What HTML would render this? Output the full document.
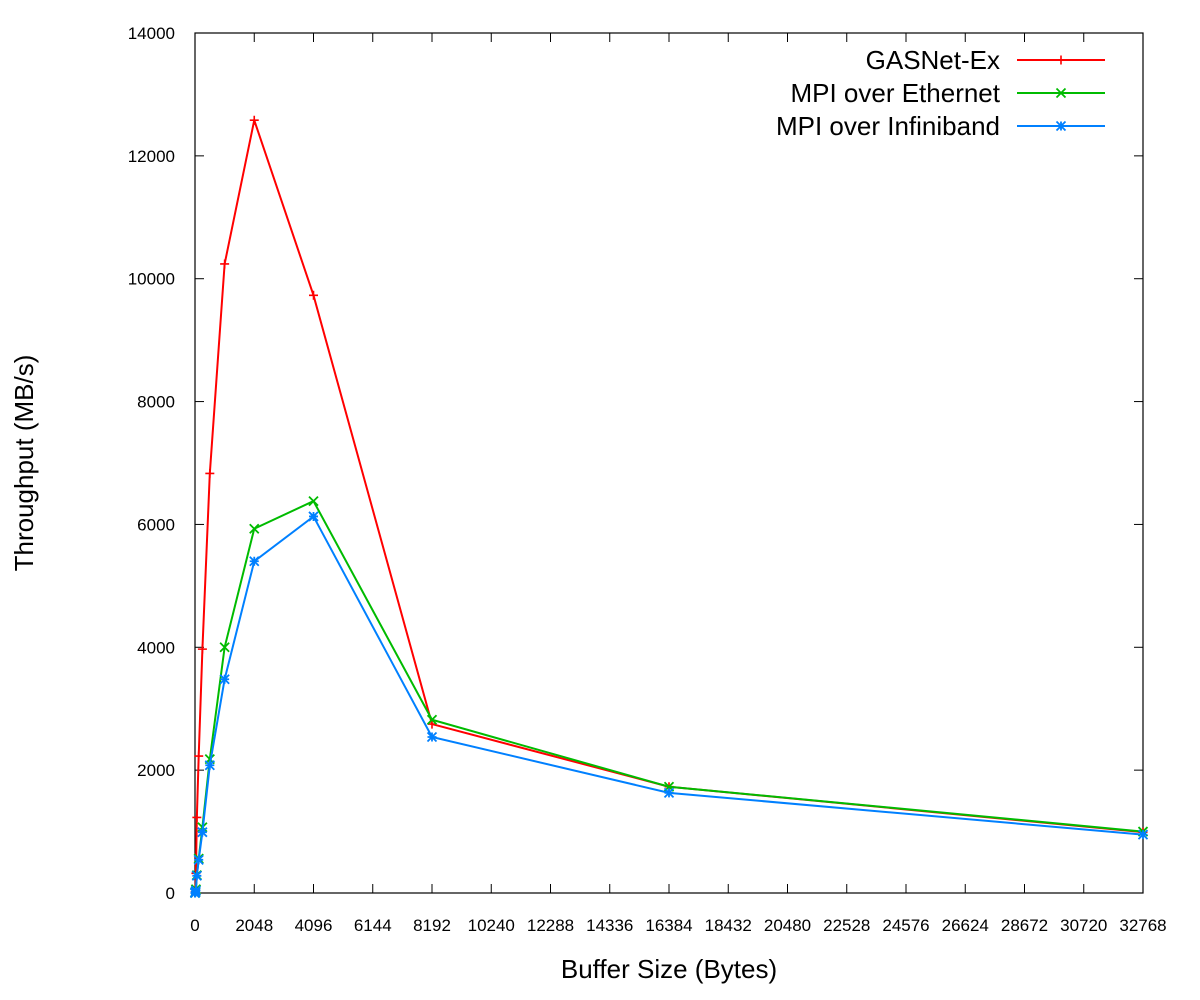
<!DOCTYPE html>
<html><head><meta charset="utf-8"><style>
html,body{margin:0;padding:0;background:#fff;}
svg{display:block;font-family:"Liberation Sans",sans-serif;}
</style></head><body>
<svg id="chart" width="1200" height="1000" viewBox="0 0 1200 1000"></svg>
<script>
const xValues=[1,2,4,8,16,32,64,128,256,512,1024,2048,4096,8192,16384,32768];
const gasnet=[2,4,8,20,60,320,1230,2230,3970,6830,10240,12580,9730,2750,1730,990];
const mpiEth=[1,2,4,8,20,60,290,560,1070,2180,4000,5930,6380,2820,1730,1000];
const mpiIb=[1,2,4,8,15,40,280,540,990,2080,3480,5400,6130,2540,1630,950];
const xTicks=[0,2048,4096,6144,8192,10240,12288,14336,16384,18432,20480,22528,24576,26624,28672,30720,32768];
const yTicks=[0,2000,4000,6000,8000,10000,12000,14000];
const seriesNames=["GASNet-Ex","MPI over Ethernet","MPI over Infiniband"];
const L=195,R=1143,T=33,B=893;
const sx=v=>L+(v/32768)*(R-L);
const sy=v=>B-(v/14000)*(B-T);
const NS="http://www.w3.org/2000/svg";
const svg=document.getElementById('chart');
function mk(tag,attrs,parent){const e=document.createElementNS(NS,tag);for(const k in attrs)e.setAttribute(k,attrs[k]);(parent||svg).appendChild(e);return e;}
xTicks.forEach(t=>{
  const x=sx(t);
  const a=mk('line',{x1:x,y1:B,x2:x,y2:B-9,stroke:'#000','stroke-width':1});
  
  
  const b=mk('line',{x1:x,y1:T,x2:x,y2:T+9,stroke:'#000','stroke-width':1});
  
  
  const tx=mk('text',{x:x,y:B+38,'text-anchor':'middle','font-size':17});
  tx.textContent=t;
  
  
});
yTicks.forEach(t=>{
  const y=sy(t);
  const a=mk('line',{x1:L,y1:y,x2:L+9,y2:y,stroke:'#000','stroke-width':1});
  
  
  const b=mk('line',{x1:R,y1:y,x2:R-9,y2:y,stroke:'#000','stroke-width':1});
  
  
  const tx=mk('text',{x:L-20,y:y+6,'text-anchor':'end','font-size':17});
  tx.textContent=t;
  
  
});
const border=mk('rect',{x:L,y:T,width:R-L,height:B-T,fill:'none',stroke:'#000','stroke-width':1.2});


function marker(kind,x,y,color,g){
  const s=4.5;
  if(kind==='plus'){
    mk('path',{d:`M${x-s} ${y}H${x+s}M${x} ${y-s}V${y+s}`,stroke:color,'stroke-width':1.6,fill:'none'},g);
  }else if(kind==='x'){
    mk('path',{d:`M${x-s} ${y-s}L${x+s} ${y+s}M${x-s} ${y+s}L${x+s} ${y-s}`,stroke:color,'stroke-width':1.8,fill:'none'},g);
  }else{
    mk('path',{d:`M${x-s} ${y-s}L${x+s} ${y+s}M${x-s} ${y+s}L${x+s} ${y-s}M${x-s} ${y}H${x+s}M${x} ${y-s}V${y+s}`,stroke:color,'stroke-width':1.8,fill:'none'},g);
  }
}
const defs=[[gasnet,'#ff0000','plus','gasnet-ex'],[mpiEth,'#00bb00','x','mpi-over-ethernet'],[mpiIb,'#0080ff','star','mpi-over-infiniband']];
defs.forEach((d,i)=>{
  const g=mk('g',{});
  
  
  const pts=xValues.map((x,j)=>sx(x).toFixed(2)+','+sy(d[0][j]).toFixed(2)).join(' ');
  const pl=mk('polyline',{points:pts,fill:'none',stroke:d[1],'stroke-width':2},g);
  
  
  xValues.forEach((x,j)=>marker(d[2],sx(x),sy(d[0][j]),d[1],g));
  const ly=60+i*33;
  const lg=mk('g',{});
  
  
  const t=mk('text',{x:1000,y:ly+9,'text-anchor':'end','font-size':26},lg);
  t.textContent=seriesNames[i];
  mk('line',{x1:1017,y1:ly,x2:1105,y2:ly,stroke:d[1],'stroke-width':2},lg);
  marker(d[2],1061,ly,d[1],lg);
});
const xt=mk('text',{x:669,y:978,'text-anchor':'middle','font-size':26});
xt.textContent='Buffer Size (Bytes)';


const yt=mk('text',{x:0,y:0,'text-anchor':'middle','font-size':26,transform:'translate(33,463) rotate(-90)'});
yt.textContent='Throughput (MB/s)';


</script>
</body></html>
